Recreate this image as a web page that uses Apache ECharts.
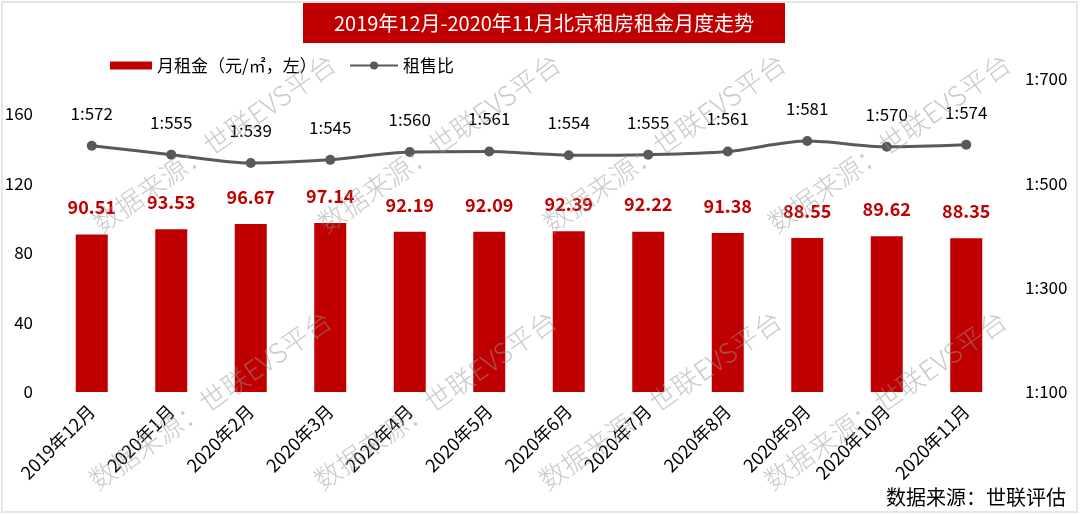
<!DOCTYPE html>
<html>
<head>
<meta charset="utf-8">
<script src="https://cdn.jsdelivr.net/npm/echarts@6/dist/echarts.min.js"></script>
<style>html,body{margin:0;padding:0;background:#fff}#c{width:1080px;height:515px}</style>
</head>
<body>
<div id="c"></div>
<script>
const categories = ['2019年12月','2020年1月','2020年2月','2020年3月','2020年4月','2020年5月','2020年6月','2020年7月','2020年8月','2020年9月','2020年10月','2020年11月'];
const rentValues = [90.51, 93.53, 96.67, 97.14, 92.19, 92.09, 92.39, 92.22, 91.38, 88.55, 89.62, 88.35];
const ratioValues = [572, 555, 539, 545, 560, 561, 554, 555, 561, 581, 570, 574];
const titleText = '2019年12月-2020年11月北京租房租金月度走势';
const rentName = '月租金（元/㎡，左）';
const ratioName = '租售比';
const sourceText = '数据来源：世联评估';
const watermarkText = '数据来源：世联EVS平台';

const FONT = '"Noto Sans CJK SC", "Noto Sans", sans-serif';
const chart = echarts.init(document.getElementById('c'), null, {renderer: 'canvas'});

const wmCenters = [];
[[214,143],[210,400]].forEach(function(row){
  for (let i = 0; i < 4; i++) wmCenters.push([row[0] + 225*i, row[1]]);
});
const watermarks = wmCenters.map(function(p){
  return {
    type: 'text', x: p[0], y: p[1], rotation: 35*Math.PI/180, z: 100, silent: true,
    style: { text: watermarkText, fill: 'rgba(150,150,150,0.5)', font: '300 27px ' + FONT, align: 'center', verticalAlign: 'middle' }
  };
});

chart.setOption({
  animation: false,
  backgroundColor: '#fff',
  textStyle: { fontFamily: FONT },
  grid: { left: 52, right: 74, top: 79, bottom: 123, containLabel: false },
  legend: [
    { data: [rentName], left: 105, top: 52, itemWidth: 42, itemHeight: 8, icon: 'rect',
      textStyle: { fontSize: 17, color: '#000', fontFamily: FONT } },
    { data: [ratioName], left: 344, top: 52, itemWidth: 48, itemHeight: 10,
      textStyle: { fontSize: 17, color: '#000', fontFamily: FONT } }
  ],
  xAxis: {
    type: 'category', data: categories,
    axisLine: { show: false }, axisTick: { show: false },
    axisLabel: { rotate: 45, fontSize: 18, color: '#000', margin: 16, interval: 0, fontFamily: FONT }
  },
  yAxis: [
    { type: 'value', min: 0, max: 180, interval: 40, splitLine: { show: false },
      axisLine: { show: false }, axisTick: { show: false },
      axisLabel: { fontSize: 17, color: '#000', margin: 19, showMaxLabel: false, fontFamily: FONT } },
    { type: 'value', min: 100, max: 700, interval: 200, position: 'right', splitLine: { show: false },
      axisLine: { show: false }, axisTick: { show: false },
      axisLabel: { fontSize: 17, color: '#000', margin: 19, formatter: '1:{value}', fontFamily: FONT } }
  ],
  series: [
    { name: rentName, type: 'bar', data: rentValues, barWidth: 32, yAxisIndex: 0,
      itemStyle: { color: '#C00000' },
      label: { show: true, position: 'top', distance: 18, color: '#C00000', fontSize: 18, fontWeight: 'bold', fontFamily: FONT } },
    { name: ratioName, type: 'line', data: ratioValues, yAxisIndex: 1, smooth: 0.3,
      symbol: 'circle', symbolSize: 10,
      lineStyle: { color: '#595959', width: 3 }, itemStyle: { color: '#595959' },
      label: { show: true, position: 'top', distance: 19, color: '#000', fontSize: 17, formatter: '1:{c}', fontFamily: FONT } }
  ],
  graphic: [
    { type: 'rect', shape: { x: 2, y: 2, width: 1075, height: 510 }, style: { fill: 'none', stroke: '#e6e6e6', lineWidth: 2 }, silent: true },
    { type: 'rect', shape: { x: 303, y: 3, width: 482, height: 40 }, style: { fill: '#C00000' } },
    { type: 'text', x: 544, y: 23, style: { text: titleText, fill: '#fff', font: '20px ' + FONT, align: 'center', verticalAlign: 'middle' } },
    { type: 'text', x: 1066, y: 497, style: { text: sourceText, fill: '#000', font: '20px ' + FONT, align: 'right', verticalAlign: 'middle' } }
  ].concat(watermarks)
});
</script>
</body>
</html>
